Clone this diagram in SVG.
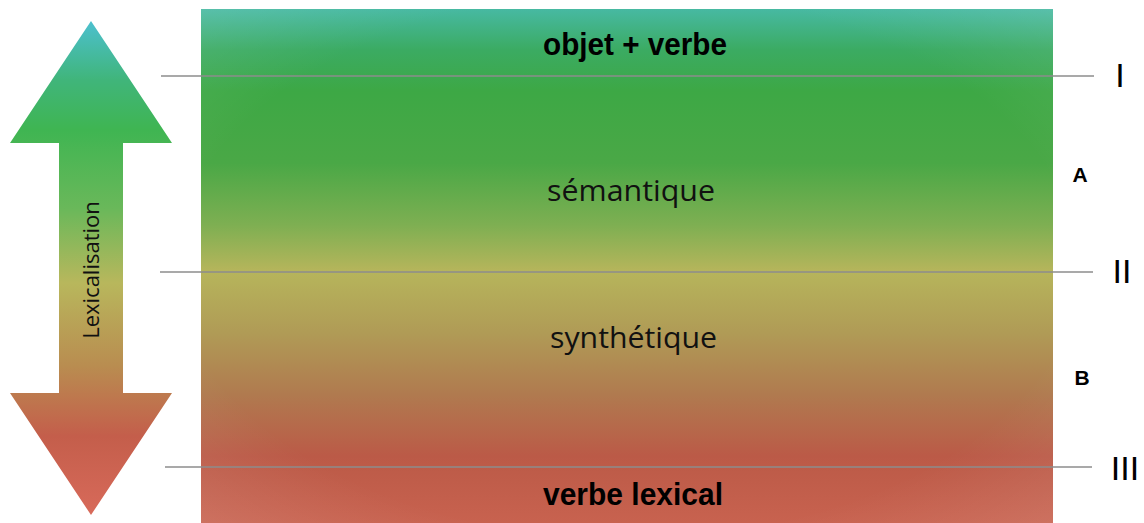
<svg xmlns="http://www.w3.org/2000/svg" width="1144" height="523" viewBox="0 0 1144 523">
<style>
.lvl{stroke:#8c8c8c;stroke-width:1.5;fill:none}
.bold{font-family:"Liberation Sans",Arial,sans-serif;font-weight:bold;fill:#000}
.reg{font-family:"Open Sans","Noto Sans",sans-serif;fill:#111}
.roman{font-family:"Liberation Sans",Arial,sans-serif;fill:#000}
</style>
<defs>
<linearGradient id="bg" x1="0" y1="9" x2="0" y2="523" gradientUnits="userSpaceOnUse">
<stop offset="0" stop-color="#47b9a2"/>
<stop offset="0.08" stop-color="#3bab62"/>
<stop offset="0.16" stop-color="#3da845"/>
<stop offset="0.3" stop-color="#4aa846"/>
<stop offset="0.42" stop-color="#7eaf52"/>
<stop offset="0.51" stop-color="#b6b55b"/>
<stop offset="0.63" stop-color="#b09b56"/>
<stop offset="0.75" stop-color="#b07a4f"/>
<stop offset="0.87" stop-color="#bb5a47"/>
<stop offset="1" stop-color="#c8624f"/>
</linearGradient>
<linearGradient id="ag" x1="0" y1="21" x2="0" y2="515" gradientUnits="userSpaceOnUse">
<stop offset="0" stop-color="#4cc0cf"/>
<stop offset="0.12" stop-color="#40b57a"/>
<stop offset="0.22" stop-color="#3fb552"/>
<stop offset="0.38" stop-color="#6ab85a"/>
<stop offset="0.53" stop-color="#b8b75c"/>
<stop offset="0.7" stop-color="#b98c50"/>
<stop offset="0.84" stop-color="#c45e4b"/>
<stop offset="1" stop-color="#d86a5a"/>
</linearGradient>
<radialGradient id="edge" cx="0.5" cy="0.5" r="0.75">
<stop offset="0.7" stop-color="#ffffff" stop-opacity="0"/>
<stop offset="1" stop-color="#ffffff" stop-opacity="0.12"/>
</radialGradient>
</defs>
<g id="band">
<rect x="201" y="9" width="852" height="514" fill="url(#bg)"/>
<rect x="201" y="9" width="852" height="514" fill="url(#edge)"/>
</g>
<g id="arrow">
<polygon points="91,21 172,143 123,143 123,393 172,393 91,515 10,393 59,393 59,143 10,143" fill="url(#ag)"/>
<text class="reg" transform="translate(99,270) rotate(-90)" text-anchor="middle" font-size="22">Lexicalisation</text>
</g>
<g id="connectors">
<line class="lvl" x1="161" y1="76" x2="1094" y2="76"/>
<line class="lvl" x1="160" y1="272" x2="1093" y2="272"/>
<line class="lvl" x1="165" y1="467" x2="1092" y2="467"/>
</g>
<g id="n-objet"><text class="bold" x="543" y="55" font-size="31" textLength="184" lengthAdjust="spacingAndGlyphs">objet + verbe</text></g>
<g id="n-semantique"><text class="reg" x="547" y="201" font-size="30" textLength="168" lengthAdjust="spacingAndGlyphs">sémantique</text></g>
<g id="n-synthetique"><text class="reg" x="550" y="348" font-size="30" textLength="167" lengthAdjust="spacingAndGlyphs">synthétique</text></g>
<g id="n-verbe"><text class="bold" x="543" y="505" font-size="31" textLength="180" lengthAdjust="spacingAndGlyphs">verbe lexical</text></g>
<g id="labels">
<text class="roman" x="1120" y="87" text-anchor="middle" font-size="34">I</text>
<text class="bold" x="1080" y="182" text-anchor="middle" font-size="21">A</text>
<text class="roman" x="1122" y="283" text-anchor="middle" font-size="34">II</text>
<text class="bold" x="1082" y="385" text-anchor="middle" font-size="21">B</text>
<text class="roman" x="1125" y="480" text-anchor="middle" font-size="34">III</text>
</g>
</svg>
